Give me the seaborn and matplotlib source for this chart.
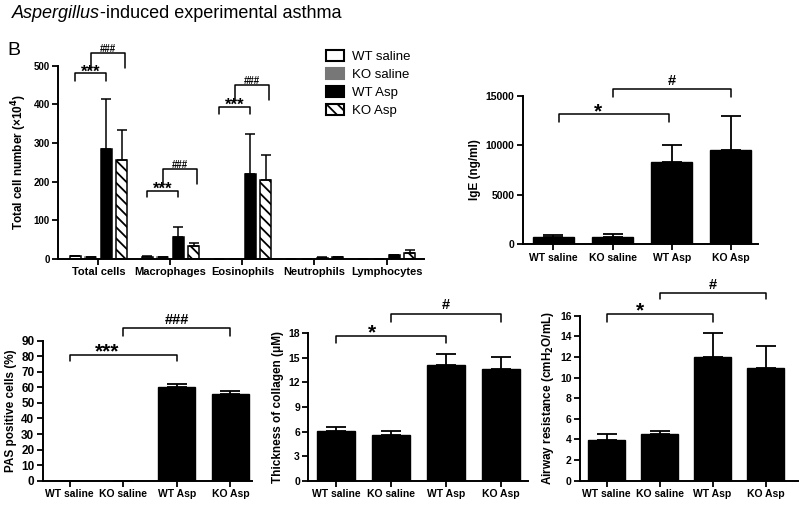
import numpy as np
import pandas as pd
import matplotlib
matplotlib.use("Agg")
import matplotlib.pyplot as plt
from matplotlib.patches import Patch
import seaborn as sns

sns.set_style("ticks", {"axes.edgecolor": "black", "text.color": "black",
                        "xtick.color": "black", "ytick.color": "black",
                        "axes.labelcolor": "black"})
plt.rcParams['font.family'] = ['Liberation Sans', 'DejaVu Sans']
plt.rcParams['hatch.linewidth'] = 1.3
plt.rcParams['axes.linewidth'] = 1.4

groups = ['WT saline', 'KO saline', 'WT Asp', 'KO Asp']
cell_types = ['Total cells', 'Macrophages', 'Eosinophils', 'Neutrophils', 'Lymphocytes']

# BAL cell counts (x10^4), one list per group, in cell_types order
cells_mean = {
    'WT saline': [6, 5, 0, 0, 0],
    'KO saline': [4, 4, 0, 0, 0],
    'WT Asp': [283, 55, 220, 3, 9],
    'KO Asp': [255, 32, 204, 4, 16],
}
cells_err = {
    'WT saline': [1, 1, 0, 0, 0],
    'KO saline': [1, 1, 0, 0, 0],
    'WT Asp': [132, 28, 102, 1, 1],
    'KO Asp': [78, 9, 64, 1, 7],
}

ige_mean = [700, 750, 8350, 9500]
ige_err = [200, 250, 1650, 3500]

pas_mean = [0, 0, 60.4, 55.5]
pas_err = [0, 0, 1.8, 2.0]

collagen_mean = [6.1, 5.6, 14.1, 13.6]
collagen_err = [0.45, 0.5, 1.4, 1.45]

airway_mean = [3.95, 4.5, 12.0, 10.9]
airway_err = [0.6, 0.33, 2.3, 2.2]

colors = ['white', '#777777', 'black', 'white']
edges = ['black', '#666666', 'black', 'black']

fig = plt.figure(figsize=(8, 5.07), dpi=100)
ax1 = fig.add_axes([0.0725, 0.4897, 0.4575, 0.3807])
ax2 = fig.add_axes([0.6534, 0.5181, 0.2941, 0.2931])
ax3 = fig.add_axes([0.0534, 0.0519, 0.2613, 0.2761])
ax4 = fig.add_axes([0.3854, 0.0519, 0.2746, 0.2907])
ax5 = fig.add_axes([0.725, 0.0519, 0.2725, 0.3254])


def style(ax, ymax, step, ylabel, yfs=7, xfs=7.5):
    sns.despine(ax=ax)
    ax.set_ylim(0, ymax)
    ax.set_yticks(np.arange(0, ymax + step / 2, step))
    ax.set_ylabel(ylabel, fontsize=8.5, fontweight='bold', labelpad=3)
    ax.set_xlabel('')
    ax.tick_params(length=4, width=1.3, pad=2)
    ax.tick_params(axis='y', labelsize=yfs)
    ax.tick_params(axis='x', labelsize=xfs)
    for t in ax.get_xticklabels() + ax.get_yticklabels():
        t.set_fontweight('bold')


def bracket(ax, x1, x2, y, ybot, label, fs, frac=0.5, off=0):
    ax.plot([x1, x1, x2, x2], [ybot, y, y, ybot], color='black', lw=1.1,
            clip_on=False)
    ax.annotate(label, (x1 + frac * (x2 - x1), y), xytext=(0, off),
                textcoords='offset points', ha='center', va='baseline',
                fontsize=fs, fontweight='bold', annotation_clip=False)


def single(ax, means, errs):
    sns.barplot(x=groups, y=means, color='black', width=0.7, saturation=1,
                edgecolor='black', ax=ax)
    xs = [p.get_x() + p.get_width() / 2 for p in ax.patches]
    ax.errorbar(xs, means, yerr=[np.zeros(len(errs)), errs], fmt='none',
                ecolor='black', elinewidth=1.3, capsize=7, capthick=1.3)
    return xs


# panel 1: cell counts
df1 = pd.DataFrame([(c, g, cells_mean[g][i]) for g in groups
                    for i, c in enumerate(cell_types)],
                   columns=['cell', 'group', 'value'])
sns.barplot(data=df1, x='cell', y='value', hue='group', hue_order=groups,
            palette=colors, saturation=1, width=0.86, gap=0.29,
            linewidth=1.1, legend=False, ax=ax1)
centers = {}
for k, (g, cont) in enumerate(zip(groups, ax1.containers)):
    xs = []
    for p in cont:
        p.set_edgecolor(edges[k])
        if g == 'KO Asp':
            p.set_hatch('\\\\\\')
        xs.append(p.get_x() + p.get_width() / 2)
    centers[g] = xs
    ax1.errorbar(xs, cells_mean[g], yerr=[np.zeros(5), cells_err[g]],
                 fmt='none', ecolor='black', elinewidth=1.1, capsize=3.5,
                 capthick=1.1)
ax1.set_xlim(-0.56, 4.52)
style(ax1, 500, 100, 'Total cell number (×10$^\\mathbf{4}$)', yfs=7, xfs=8)

for i, (s1, b1, s2, b2) in zip([0, 1, 2], [(481, 461, 533, 494),
                                          (176, 160, 232, 193),
                                          (394, 375, 449, 410)]):
    bracket(ax1, centers['WT saline'][i], centers['WT Asp'][i], s1, b1,
            '***', 12, off=-2.5)
    bracket(ax1, centers['KO saline'][i], centers['KO Asp'][i] + 0.05, s2, b2,
            '###', 7, off=1)

handles = [Patch(facecolor=c, edgecolor=e, linewidth=1.5, label=g,
                 hatch='\\\\\\' if g == 'KO Asp' else None)
           for g, c, e in zip(groups, colors, ['black', '#777777', 'black', 'black'])]
fig.legend(handles=handles, loc='upper left', bbox_to_anchor=(326 / 800, 1 - 50 / 507),
           frameon=False, fontsize=9.5, handlelength=1.4, handleheight=0.95,
           labelspacing=0.36, handletextpad=0.6, borderpad=0, borderaxespad=0)

# panel 2: IgE
xs = single(ax2, ige_mean, ige_err)
ax2.set_xlim(-0.52, 3.46)
style(ax2, 15000, 5000, 'IgE (ng/ml)', yfs=7.5)
bracket(ax2, xs[0] + 0.1, xs[2] - 0.05, 13120, 12320, '*', 15, frac=0.35, off=-2)
bracket(ax2, xs[1], xs[3], 15680, 14900, '#', 10.5, off=3)

# panel 3: PAS
xs = single(ax3, pas_mean, pas_err)
ax3.set_xlim(-0.5, 3.4)
style(ax3, 90, 10, 'PAS positive cells (%)', yfs=8.5)
bracket(ax3, xs[0], xs[2], 80.8, 77, '***', 15, frac=0.35, off=-2)
bracket(ax3, xs[1], xs[3], 98, 93, '###', 10.5, off=3)

# panel 4: collagen
xs = single(ax4, collagen_mean, collagen_err)
ax4.set_xlim(-0.5, 3.49)
style(ax4, 18, 3, 'Thickness of collagen (μM)', yfs=7.5)
bracket(ax4, xs[0], xs[2], 17.67, 16.85, '*', 15, frac=0.33, off=-2)
bracket(ax4, xs[1], xs[3], 20.4, 19.4, '#', 10.5, off=3)

# panel 5: airway resistance
xs = single(ax5, airway_mean, airway_err)
ax5.set_xlim(-0.5, 3.61)
style(ax5, 16, 2, 'Airway resistance (cmH$_\\mathbf{2}$O/mL)', yfs=7.5)
bracket(ax5, xs[0], xs[2], 16.2, 15.4, '*', 15, frac=0.32, off=-2)
bracket(ax5, xs[1], xs[3], 18.2, 17.6, '#', 10.5, off=3)

# heading
t1 = fig.text(12 / 800, 1 - 18 / 507, 'Aspergillus', style='italic',
              fontsize=13, va='baseline')
renderer = fig.canvas.get_renderer()
bb = t1.get_window_extent(renderer)
fig.text(bb.x1 / fig.bbox.width, 1 - 18 / 507, '-induced experimental asthma',
         fontsize=13, va='baseline')
fig.text(7 / 800, 1 - 55 / 507, 'B', fontsize=14, va='baseline')

fig.savefig('out.png', dpi=100)
